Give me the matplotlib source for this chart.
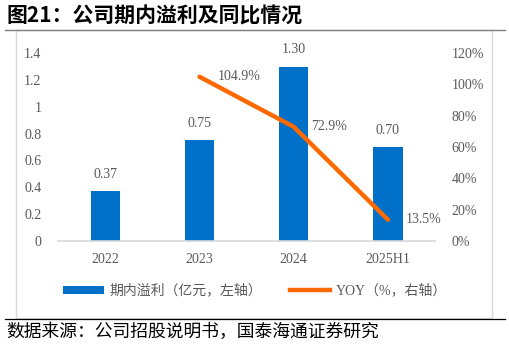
import matplotlib
matplotlib.use('Agg')
import matplotlib.pyplot as plt
from matplotlib.patches import Rectangle, Patch
from matplotlib.lines import Line2D

plt.rcParams['font.family'] = ['Liberation Serif', 'Noto Sans CJK SC', 'DejaVu Sans']

# 数据
categories = ['2022', '2023', '2024', '2025H1']
profit = [0.37, 0.75, 1.30, 0.70]          # 期内溢利(亿元)
yoy_cats = ['2023', '2024', '2025H1']
yoy = [104.9, 72.9, 13.5]                  # 同比(%)
left_ticks = [0, 0.2, 0.4, 0.6, 0.8, 1, 1.2, 1.4]
left_tick_labels = ['0', '0.2', '0.4', '0.6', '0.8', '1', '1.2', '1.4']
right_ticks = [0, 20, 40, 60, 80, 100, 120]

blue = '#0070C8'
orange = '#FF6A00'
grey = '#595959'

fig = plt.figure(figsize=(5.1, 3.45), dpi=100)

# 外框与分隔线
fig.patches.append(Rectangle((0.031, 0.078), 0.933, 0.835, transform=fig.transFigure,
                             fill=False, edgecolor='#D9D9D9', linewidth=1.0))
fig.add_artist(Line2D([0.01, 0.99], [0.913, 0.913], transform=fig.transFigure,
                      color='#7F7F7F', linewidth=1.0))
fig.add_artist(Line2D([0.01, 0.99], [0.075, 0.075], transform=fig.transFigure,
                      color='black', linewidth=0.9))

fig.text(0.012, 0.953, '图21：公司期内溢利及同比情况', fontsize=15, fontweight='bold',
         family=['Noto Sans CJK SC'], va='center', ha='left', color='black')
fig.text(0.012, 0.038, '数据来源：公司招股说明书，国泰海通证券研究', fontsize=12.8,
         family=['Noto Sans CJK SC'], va='center', ha='left', color='black')

ax = fig.add_axes([0.114, 0.302, 0.739, 0.544])
x = list(range(len(categories)))
ax.bar(x, profit, width=0.31, color=blue, zorder=2)
for xi, v in zip(x, profit):
    ax.text(xi, v + 0.125, f'{v:.2f}', ha='center', va='center', fontsize=10, color=grey)

ax.set_xlim(-0.5, len(categories) - 0.5)
ax.set_ylim(0, 1.4)
ax.set_yticks(left_ticks)
ax.set_yticklabels(left_tick_labels)
ax.set_xticks(x)
ax.set_xticklabels(categories)
ax.tick_params(axis='both', length=0, labelsize=10, colors=grey)
ax.tick_params(axis='x', pad=9)
ax.tick_params(axis='y', pad=12)
for s in ['top', 'left', 'right']:
    ax.spines[s].set_visible(False)
ax.spines['bottom'].set_color('#D9D9D9')
ax.spines['bottom'].set_linewidth(1.2)

ax2 = ax.twinx()
xy = [categories.index(c) for c in yoy_cats]
ax2.plot(xy, yoy, color=orange, linewidth=3.2, solid_capstyle='round', zorder=3)
ax2.set_ylim(0, 120)
ax2.set_yticks(right_ticks)
ax2.set_yticklabels([f'{t}%' for t in right_ticks])
ax2.tick_params(axis='y', length=0, labelsize=10, colors=grey, pad=12)
for s in ['top', 'left', 'right', 'bottom']:
    ax2.spines[s].set_visible(False)
for xi, v in zip(xy, yoy):
    ax2.text(xi + 0.19, v, f'{v}%', ha='left', va='center', fontsize=10, color=grey)

handles = [Patch(facecolor=blue, edgecolor='none'),
           Line2D([0], [0], color=orange, linewidth=3.2)]
labels = ['期内溢利（亿元，左轴）', 'YOY（%，右轴）']
fig.legend(handles, labels, loc='center', bbox_to_anchor=(0.5, 0.157), ncol=2,
           frameon=False, handlelength=2.9, handleheight=0.55,
           columnspacing=2.0, handletextpad=0.4, labelcolor=grey,
           prop={'family': ['Liberation Serif', 'Noto Sans CJK SC'], 'size': 10})

fig.savefig('out.png', dpi=100)
